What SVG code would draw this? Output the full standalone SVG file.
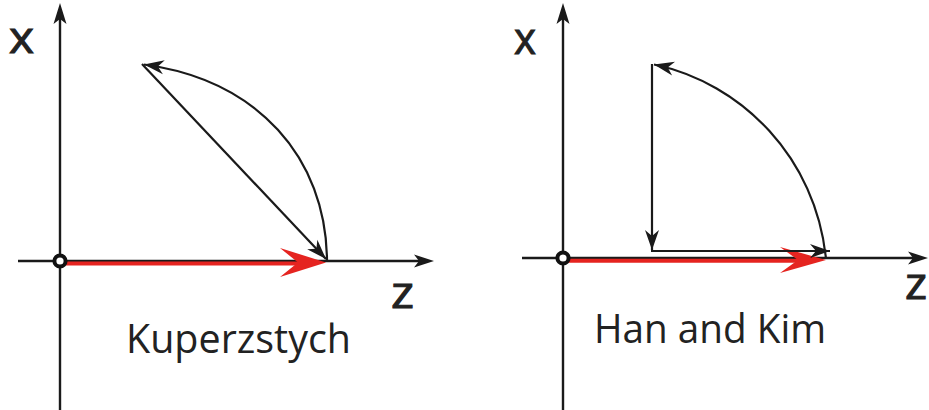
<svg xmlns="http://www.w3.org/2000/svg" width="929" height="410" viewBox="0 0 929 410">
<style>
.ax{stroke:#1a1a1a;stroke-width:2.4;fill:none}
.ln{stroke:#1a1a1a;stroke-width:2.2;fill:none}
.red{stroke:#e52420;stroke-width:4;fill:none}
.redh{fill:#e52420}
.org{fill:#fff;stroke:#111;stroke-width:4}
.lbl{font-family:"Open Sans","Noto Sans",sans-serif;fill:#222;font-size:41px}
.axl{font-family:"Open Sans","Noto Sans",sans-serif;fill:#222;stroke:#222;stroke-width:1;font-size:43px}
</style>
<defs>
<marker id="ah" markerUnits="userSpaceOnUse" markerWidth="26" markerHeight="18" viewBox="-22 -9 26 18" refX="0" refY="0" orient="auto">
<path d="M0,0 L-20,-7 L-14,0 L-20,7 Z" fill="#1a1a1a"/>
</marker>
</defs>
<g id="left-panel">
<g id="left-axes">
<line class="ax" x1="60" y1="18" x2="60" y2="410"/>
<path d="M60,3 L53.5,24 L60,19 L66.5,24 Z" fill="#1a1a1a"/>
<line class="ax" x1="18" y1="261" x2="420" y2="261"/>
<path d="M434,261 L414,254.5 L419,261 L414,267.5 Z" fill="#1a1a1a"/>
</g>
<g id="left-red-vector">
<line class="red" x1="64" y1="263.5" x2="305" y2="263.5"/>
<path class="redh" d="M326,262.5 L280,248 L298,262.5 L280,277 Z"/>
</g>
<g id="left-connectors">
<line class="ln" x1="142" y1="64" x2="326" y2="259" marker-end="url(#ah)"/>
<path class="ln" d="M327,260 C326,158 258,80 144,64.5" marker-end="url(#ah)"/>
</g>
<circle id="left-origin" class="org" cx="60" cy="261" r="5.6"/>
<text class="axl" x="9" y="53" textLength="25" lengthAdjust="spacingAndGlyphs">x</text>
<text class="axl" x="391" y="308" textLength="23" lengthAdjust="spacingAndGlyphs">z</text>
<text id="label-kuperzstych" class="lbl" x="126" y="353" textLength="225" lengthAdjust="spacingAndGlyphs">Kuperzstych</text>
</g>
<g id="right-panel">
<g id="right-axes">
<line class="ax" x1="563" y1="18" x2="563" y2="410"/>
<path d="M563,3 L556.5,24 L563,19 L569.5,24 Z" fill="#1a1a1a"/>
<line class="ax" x1="522" y1="258" x2="914" y2="258"/>
<path d="M928,258 L908,251.5 L913,258 L908,264.5 Z" fill="#1a1a1a"/>
</g>
<g id="right-red-vector">
<line class="red" x1="567" y1="260.7" x2="805" y2="260.7"/>
<path class="redh" d="M826,260 L780,247 L798,260 L780,273 Z"/>
</g>
<g id="right-connectors">
<line class="ln" x1="652" y1="64" x2="652" y2="250" marker-end="url(#ah)"/>
<line class="ln" x1="651" y1="251" x2="830" y2="251" marker-end="url(#ah)"/>
<path class="ln" d="M826,259 C816,158 742,83 654,64.5" marker-end="url(#ah)"/>
</g>
<circle id="right-origin" class="org" cx="563" cy="258" r="5.6"/>
<text class="axl" x="514" y="54" textLength="22" lengthAdjust="spacingAndGlyphs">x</text>
<text class="axl" x="905" y="299" textLength="22" lengthAdjust="spacingAndGlyphs">z</text>
<text id="label-han-kim" class="lbl" x="594" y="343" textLength="232" lengthAdjust="spacingAndGlyphs">Han and Kim</text>
</g>
</svg>
